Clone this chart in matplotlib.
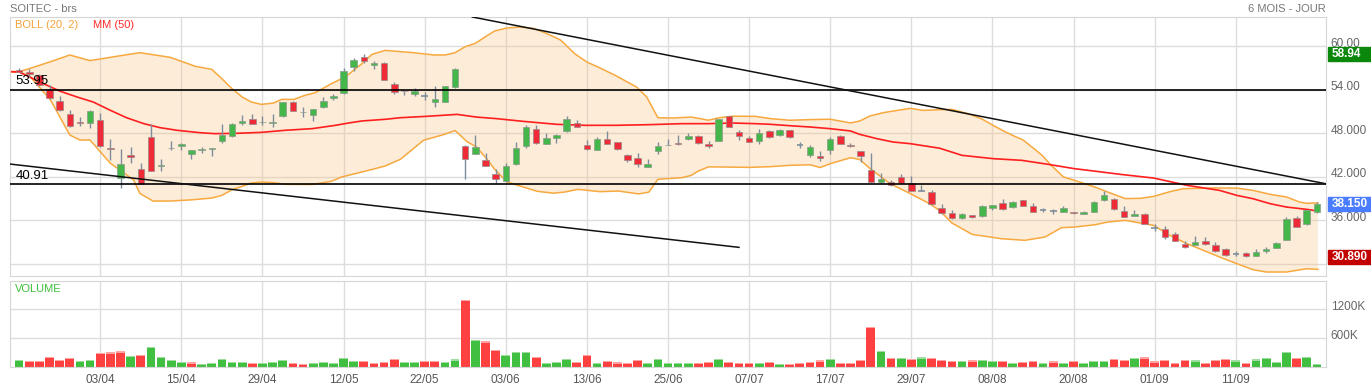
import numpy as np
import matplotlib.pyplot as plt
from matplotlib.patches import Rectangle

plt.rcParams['font.family'] = ['Liberation Sans', 'DejaVu Sans']

# cours journaliers SOITEC (index de seance 0..128)
opens = [56.69, 56.37, 56.00, 54.02, 52.46, 50.67, 49.56, 49.33, 49.79, 45.98,
         41.79, 45.01, 43.03, 47.45, 43.40, 45.87, 46.25, 45.10, 45.70, 45.75,
         46.85, 47.59, 49.43, 49.93, 49.45, 49.33, 50.34, 52.28, 50.83, 50.44,
         51.63, 52.83, 53.47, 57.06, 58.53, 57.38, 57.70, 54.76, 53.80, 53.33,
         53.10, 52.28, 52.28, 54.30, 46.21, 45.10, 44.28, 42.34, 41.38, 43.72,
         46.21, 48.55, 46.48, 47.31, 48.23, 49.33, 46.34, 45.66, 47.22, 46.76,
         45.01, 44.55, 43.31, 45.47, 46.38, 46.67, 47.17, 47.63, 46.53, 46.90,
         50.39, 48.14, 47.31, 46.90, 48.32, 47.72, 48.41, 46.30, 44.97, 44.83,
         45.66, 47.63, 46.39, 45.52, 42.90, 41.24, 41.29, 41.89, 41.10, 40.05,
         39.91, 37.70, 36.92, 36.23, 36.64, 36.51, 37.61, 38.34, 37.75, 38.76,
         37.93, 37.33, 37.29, 37.10, 37.10, 36.83, 37.10, 38.71, 38.90, 37.24,
         36.60, 36.83, 34.94, 34.76, 34.07, 32.64, 32.60, 33.10, 32.51, 32.00,
         31.36, 31.49, 31.03, 31.72, 32.14, 33.24, 36.32, 35.49, 37.06]
highs = [56.92, 56.83, 56.10, 54.62, 53.15, 51.13, 50.25, 51.15, 50.71, 47.13,
         45.84, 46.11, 43.82, 49.24, 44.37, 46.94, 46.67, 45.70, 46.11, 46.00,
         49.24, 49.40, 50.48, 50.67, 50.30, 50.67, 52.30, 52.46, 51.54, 51.35,
         53.01, 53.40, 56.92, 58.30, 58.94, 57.95, 57.75, 54.99, 53.85, 54.15,
         53.70, 54.53, 54.50, 56.90, 46.34, 47.77, 45.29, 43.08, 43.91, 46.71,
         49.10, 49.10, 47.95, 47.80, 50.39, 49.79, 47.03, 47.49, 48.32, 46.80,
         45.05, 45.20, 44.46, 46.80, 47.22, 47.68, 48.05, 47.70, 46.95, 49.95,
         50.40, 48.40, 47.65, 48.55, 48.40, 48.50, 48.45, 46.72, 46.40, 45.56,
         47.45, 47.70, 46.67, 45.55, 45.29, 42.53, 41.50, 42.39, 42.07, 40.83,
         40.20, 38.16, 37.45, 36.95, 36.70, 38.06, 38.10, 38.94, 38.62, 38.80,
         38.30, 37.70, 37.56, 37.93, 37.15, 37.29, 38.62, 39.95, 39.08, 37.93,
         37.45, 36.90, 35.40, 35.17, 34.40, 33.05, 33.79, 33.61, 32.97, 32.18,
         31.72, 31.60, 32.05, 32.28, 32.97, 36.46, 36.60, 37.45, 38.48]
lows = [56.35, 55.77, 54.55, 52.70, 51.00, 48.85, 48.97, 48.64, 46.10, 44.28,
        40.37, 43.82, 40.90, 42.70, 42.76, 45.66, 45.66, 44.37, 45.20, 44.83,
        46.67, 47.45, 49.06, 49.20, 49.06, 48.87, 50.25, 51.00, 50.16, 49.70,
        51.40, 52.60, 53.40, 56.60, 57.60, 56.83, 55.25, 53.38, 53.20, 53.10,
        52.55, 51.54, 52.25, 54.25, 41.61, 45.05, 43.40, 41.06, 41.30, 43.60,
        46.00, 46.50, 46.45, 46.57, 48.10, 48.80, 45.66, 45.60, 46.45, 45.65,
        44.05, 43.36, 43.25, 45.06, 46.30, 46.35, 47.10, 46.50, 46.00, 46.85,
        48.80, 47.10, 46.70, 46.48, 47.30, 47.60, 47.30, 46.00, 44.70, 44.18,
        45.06, 46.45, 46.05, 43.95, 41.20, 40.97, 40.75, 41.05, 40.00, 40.00,
        38.10, 36.85, 36.20, 36.20, 36.30, 36.45, 37.38, 37.40, 37.70, 37.90,
        37.05, 37.15, 36.78, 37.05, 36.85, 36.80, 37.05, 38.62, 37.45, 36.40,
        36.55, 35.40, 34.48, 33.38, 33.10, 32.20, 32.55, 32.50, 31.65, 30.99,
        31.03, 30.89, 31.00, 31.50, 32.10, 33.20, 35.00, 35.35, 37.00]
closes = [56.46, 56.09, 54.62, 52.83, 51.17, 48.97, 49.33, 51.03, 46.21, 45.75,
          43.77, 44.69, 40.97, 42.76, 43.63, 45.89, 46.53, 45.66, 45.78, 45.93,
          47.77, 49.24, 49.70, 49.24, 49.47, 49.56, 52.28, 51.03, 50.85, 51.31,
          52.41, 53.10, 56.60, 58.11, 57.89, 57.70, 55.31, 53.66, 53.79, 53.84,
          53.10, 52.69, 54.48, 56.83, 44.41, 46.07, 43.45, 41.66, 43.45, 45.93,
          48.83, 46.57, 47.31, 47.77, 49.93, 48.83, 45.79, 47.17, 46.48, 45.75,
          44.23, 43.77, 43.77, 46.25, 46.39, 46.44, 47.59, 46.57, 46.21, 49.93,
          48.83, 47.59, 46.76, 48.05, 47.45, 48.41, 47.45, 46.30, 46.07, 44.55,
          47.17, 46.48, 46.21, 44.83, 41.24, 41.66, 40.83, 41.10, 40.05, 40.05,
          38.16, 36.92, 36.23, 36.83, 36.37, 37.93, 38.02, 37.47, 38.48, 37.93,
          37.10, 37.33, 37.29, 37.66, 36.92, 37.15, 38.48, 39.49, 37.52, 36.46,
          36.87, 35.49, 34.94, 33.70, 33.15, 32.28, 32.97, 32.64, 31.72, 31.17,
          31.36, 31.03, 31.63, 32.05, 32.87, 36.18, 35.03, 37.33, 38.15]
# volumes en milliers de titres
volumes = [144, 123, 130, 206, 144, 185, 123, 151, 295, 302,
           322, 233, 247, 412, 206, 151, 110, 96, 69, 82,
           165, 110, 103, 89, 89, 103, 144, 82, 69, 89,
           103, 89, 185, 130, 130, 82, 103, 165, 103, 103,
           123, 130, 103, 158, 1386, 556, 528, 357, 254, 309,
           309, 206, 82, 110, 165, 110, 247, 89, 123, 96,
           89, 151, 82, 165, 89, 82, 82, 82, 103, 165,
           103, 82, 82, 82, 103, 62, 62, 82, 103, 137,
           165, 82, 82, 144, 823, 329, 192, 185, 172, 199,
           192, 151, 130, 123, 137, 151, 130, 130, 89, 110,
           130, 82, 117, 82, 130, 82, 123, 123, 165, 144,
           185, 199, 117, 144, 89, 151, 137, 82, 144, 172,
           137, 82, 158, 185, 103, 309, 185, 206, 69]

date_ticks = [8, 16, 24, 32, 40, 48, 56, 64, 72, 80, 88, 96, 104, 112, 120]
date_labels = ['03/04', '15/04', '29/04', '12/05', '22/05', '03/06', '13/06', '25/06',
               '07/07', '17/07', '29/07', '08/08', '20/08', '01/09', '11/09']

# bandes de Bollinger (20, 2) et MM 50
boll_up_x = [-0.9, 0.0, 1.1, 3.1, 5.0, 7.0, 9.0, 11.9, 14.9, 17.4, 19.0, 20.0, 21.0, 22.0,
             22.9, 23.9, 25.1, 25.9, 27.1, 28.2, 29.2, 30.8, 31.8, 32.5, 33.8, 34.8, 36.1,
             38.9, 40.9, 42.0, 43.0, 44.0, 45.0, 46.0, 46.9, 48.1, 49.4, 50.7, 52.0, 53.4,
             54.8, 56.0, 57.1, 58.8, 60.9, 61.9, 63.0, 64.4, 66.3, 68.0, 69.0, 70.3, 72.6,
             74.1, 76.0, 78.0, 80.0, 82.0, 82.9, 83.9, 85.2, 86.6, 87.9, 89.2, 90.8, 92.0,
             93.6, 94.9, 96.1, 97.2, 98.2, 99.0, 99.9, 100.9, 101.8, 103.0, 104.1, 106.1,
             107.8, 109.1, 110.6, 111.9, 113.5, 114.8, 117.8, 120.1, 121.7, 123.4, 125.0,
             126.3, 127.0, 128.1]
boll_up_y = [56.46, 56.46, 56.92, 57.84, 58.76, 57.98, 58.44, 59.08, 58.44, 57.19, 56.78,
             55.49, 54.11, 52.97, 52.28, 51.95, 52.14, 52.64, 52.64, 53.20, 53.56, 54.80,
             55.49, 56.10, 57.56, 58.85, 59.40, 59.08, 58.76, 58.76, 59.08, 59.91, 60.37,
             61.29, 62.07, 62.48, 62.62, 62.44, 61.75, 60.83, 58.94, 57.79, 57.10, 55.95,
             54.34, 52.97, 50.11, 50.07, 50.20, 49.77, 50.10, 50.32, 50.30, 49.99, 49.76,
             49.85, 49.90, 49.39, 49.65, 50.34, 50.80, 51.12, 51.40, 51.12, 51.22, 51.26,
             50.66, 49.98, 49.03, 48.21, 47.54, 47.06, 46.07, 44.92, 43.54, 41.95, 41.47,
             40.55, 39.63, 38.96, 38.99, 39.26, 39.91, 40.32, 40.43, 40.40, 40.09, 39.54,
             39.18, 38.48, 38.30, 38.36]
boll_lo_x = [-0.9, 0.0, 1.1, 3.1, 5.0, 6.0, 7.0, 8.0, 9.0, 11.3, 11.9, 13.2, 14.9, 17.0,
             19.0, 20.0, 21.0, 22.0, 22.9, 23.9, 25.1, 26.2, 28.9, 30.8, 31.8, 33.8, 35.1,
             36.1, 37.6, 39.9, 41.8, 43.0, 44.2, 45.1, 46.1, 46.9, 48.1, 49.4, 51.1, 52.7,
             53.8, 55.1, 57.3, 59.1, 61.1, 62.1, 63.0, 65.4, 66.3, 67.0, 68.0, 72.1, 74.1,
             76.0, 78.0, 79.0, 80.0, 82.0, 82.9, 83.9, 84.6, 85.9, 87.9, 89.8, 90.8, 92.0,
             94.0, 96.9, 99.2, 101.2, 102.8, 104.1, 106.1, 107.4, 109.1, 111.9, 113.5,
             115.2, 116.8, 118.4, 120.1, 121.7, 123.0, 125.0, 127.0, 128.1]
boll_lo_y = [56.46, 56.46, 55.77, 52.55, 47.72, 47.03, 47.03, 45.42, 43.82, 41.52, 39.68,
             38.62, 38.62, 38.78, 39.03, 39.40, 40.18, 40.64, 41.10, 41.24, 41.15, 40.92,
             40.90, 41.34, 41.93, 42.62, 43.08, 43.45, 44.37, 47.01, 47.75, 48.34, 46.78,
             46.09, 44.48, 42.99, 41.27, 40.69, 39.96, 39.70, 39.86, 40.23, 39.91, 40.00,
             39.60, 39.84, 41.61, 41.84, 42.16, 42.76, 43.33, 43.26, 43.36, 43.54, 43.62,
             43.24, 43.77, 44.59, 44.36, 43.13, 42.39, 41.02, 39.64, 38.25, 37.30, 35.59,
             34.02, 33.42, 33.20, 33.66, 34.94, 35.03, 35.35, 35.72, 35.95, 35.26, 33.88,
             32.73, 31.82, 30.90, 29.98, 29.15, 28.83, 28.83, 29.28, 29.19]
mm_x = [-0.9, 0.0, 2.4, 4.0, 5.7, 7.3, 9.0, 10.6, 12.3, 13.9, 15.6, 17.8, 19.3, 21.3, 23.9,
        26.2, 28.9, 31.2, 32.5, 33.8, 36.1, 37.6, 40.2, 43.2, 45.1, 47.1, 49.7, 53.0, 55.8,
        58.8, 62.1, 65.4, 68.0, 70.3, 72.6, 74.1, 76.0, 78.0, 80.0, 82.0, 82.9, 84.6, 86.2,
        87.9, 90.8, 93.0, 96.1, 98.9, 101.5, 104.1, 106.8, 108.6, 111.9, 115.2, 118.4, 120.1,
        121.7, 123.4, 125.0, 127.0, 128.1]
mm_y = [56.46, 56.41, 54.80, 53.79, 52.97, 52.28, 51.13, 50.11, 49.29, 48.74, 48.37, 48.05,
        47.91, 47.95, 48.09, 48.37, 48.60, 49.06, 49.38, 49.66, 49.89, 50.11, 50.30, 50.57,
        50.20, 49.98, 49.61, 49.20, 49.06, 49.06, 49.15, 49.29, 49.29, 49.38, 49.29, 49.20,
        49.01, 48.83, 48.60, 48.28, 47.82, 47.22, 46.76, 46.53, 45.90, 44.92, 44.46, 44.23,
        43.68, 43.08, 42.62, 42.30, 41.79, 40.78, 40.09, 39.40, 38.94, 38.25, 37.79, 37.47,
        37.24]

# traces manuels : niveaux horizontaux et droites de tendance
levels = [53.95, 40.91]
trend_up_x = [44.7, 129.0]
trend_up_y = [64.0, 40.97]
trend_lo_x = [-0.9, 71.0]
trend_lo_y = [43.72, 32.23]

price_grid = [30, 36, 42, 48, 54, 60]
price_labels = {60: '60.00', 54: '54.00', 48: '48.000', 42: '42.000', 36: '36.000'}
last_close = 38.15
high_max = 58.94
low_min = 30.89

W, H = 1371, 387
fig = plt.figure(figsize=(W / 100, H / 100), dpi=100)
ax = fig.add_axes([10 / W, 1 - 276 / H, 1316 / W, 259 / H])
axv = fig.add_axes([10 / W, 1 - 367 / H, 1316 / W, 86 / H])

grid_c = '#dddddd'
green = '#45b649'
red = '#ee2b37'
wick_c = '#7e8d9b'
x = np.arange(len(closes))
o = np.array(opens); c = np.array(closes)
h = np.array(highs); l = np.array(lows)

# ---- prix
ax.set_xlim(-0.9, 128.9)
ax.set_ylim(28.28, 64.0)
for g in price_grid:
    ax.axhline(g, color=grid_c, lw=1, zorder=0)
for t in date_ticks:
    ax.axvline(t, color=grid_c, lw=1, zorder=0)

ax.fill(np.r_[boll_up_x, boll_lo_x[::-1]], np.r_[boll_up_y, boll_lo_y[::-1]],
        color='#f8c486', alpha=0.32, lw=0, zorder=1)
ax.plot(boll_up_x, boll_up_y, color='#f7a93f', lw=1.1, zorder=2)
ax.plot(boll_lo_x, boll_lo_y, color='#f7a93f', lw=1.1, zorder=2)
ax.plot(mm_x, mm_y, color='#ff1f1f', lw=1.2, zorder=2)

ax.vlines(x, l, h, color=wick_c, lw=1, zorder=3)
up = c > o
dn = c < o
flat = c == o
ax.bar(x[up], (c - o)[up], bottom=o[up], width=0.64, color=green,
       edgecolor='#8c9a8c', lw=0.5, zorder=4)
ax.bar(x[dn], (o - c)[dn], bottom=c[dn], width=0.64, color=red,
       edgecolor='#9a8c8c', lw=0.5, zorder=4)
ax.hlines(c[flat], x[flat] - 0.32, x[flat] + 0.32, color=wick_c, lw=1.2, zorder=4)

for lv in levels:
    ax.axhline(lv, color='black', lw=1.2, zorder=5)
    ax.text(0.004, lv + 1.22, f'{lv:.2f}', transform=ax.get_yaxis_transform(),
            fontsize=9.5, color='black', va='center', ha='left', zorder=6)
ax.plot(trend_up_x, trend_up_y, color='#111111', lw=1.1, zorder=5)
ax.plot(trend_lo_x, trend_lo_y, color='#111111', lw=1.1, zorder=5)

ax.set_xticks([]); ax.set_yticks([])
for s in ax.spines.values():
    s.set_color('#d6d6d6')

trans = ax.get_yaxis_transform()
for g, lab in price_labels.items():
    ax.text(1.0035, g + 0.3, lab, transform=trans, fontsize=8.5, color='#666666',
            va='center', ha='left')

for val, txt, col in [(high_max, '58.94', '#0b870b'), (last_close, '38.150', '#4a7cff'),
                      (low_min, '30.890', '#c20000')]:
    ax.add_patch(Rectangle((1.0015, val - 0.97), 0.033, 1.94, transform=trans,
                           color=col, clip_on=False, zorder=7))
    ax.text(1.0045, val, txt, transform=trans, fontsize=8.5, color='white',
            fontweight='bold', va='center', ha='left', zorder=8)

# ---- volume
vol = np.array(volumes)
prev = np.r_[c[0] - 1, c[:-1]]
hausse = c >= prev
vcol = np.where(hausse, '#40bf40', '#ff4040')
vcap = np.where(hausse, '#9fdc9f', '#ffa3a3')
axv.set_xlim(-0.9, 128.9)
axv.set_ylim(0, 1780)
for g in [600, 1200]:
    axv.axhline(g, color=grid_c, lw=1, zorder=0)
for t in date_ticks:
    axv.axvline(t, color=grid_c, lw=1, zorder=0)
axv.bar(x, vol, width=0.86, color=vcol, lw=0, zorder=2)
cap = 25
axv.bar(x, np.minimum(cap, vol), bottom=vol - np.minimum(cap, vol), width=0.86,
        color=vcap, lw=0, zorder=3)
axv.set_yticks([])
axv.set_xticks(date_ticks)
axv.set_xticklabels(date_labels)
axv.tick_params(axis='x', length=0, pad=5, labelsize=8.5, labelcolor='#555555')
for s in axv.spines.values():
    s.set_color('#d6d6d6')
vtrans = axv.get_yaxis_transform()
for g, lab in [(1200, '1200K'), (600, '600K')]:
    axv.text(1.0035, g + 40, lab, transform=vtrans, fontsize=8.5, color='#666666',
             va='center', ha='left')

# ---- textes d'en-tete
fig.text(10 / W, 1 - 9 / H, 'SOITEC - brs', fontsize=8, color='#777777', va='center')
fig.text(1326 / W, 1 - 9 / H, '6 MOIS - JOUR', fontsize=8, color='#777777',
         va='center', ha='right')
fig.text(15 / W, 1 - 25 / H, 'BOLL (20, 2)', fontsize=8, color='#f5a23a', va='center')
fig.text(93 / W, 1 - 25 / H, 'MM (50)', fontsize=8, color='#ff2a2a', va='center')
fig.text(15 / W, 1 - 289 / H, 'VOLUME', fontsize=8, color='#3cbf3c', va='center')

fig.savefig('out.png', dpi=100)
